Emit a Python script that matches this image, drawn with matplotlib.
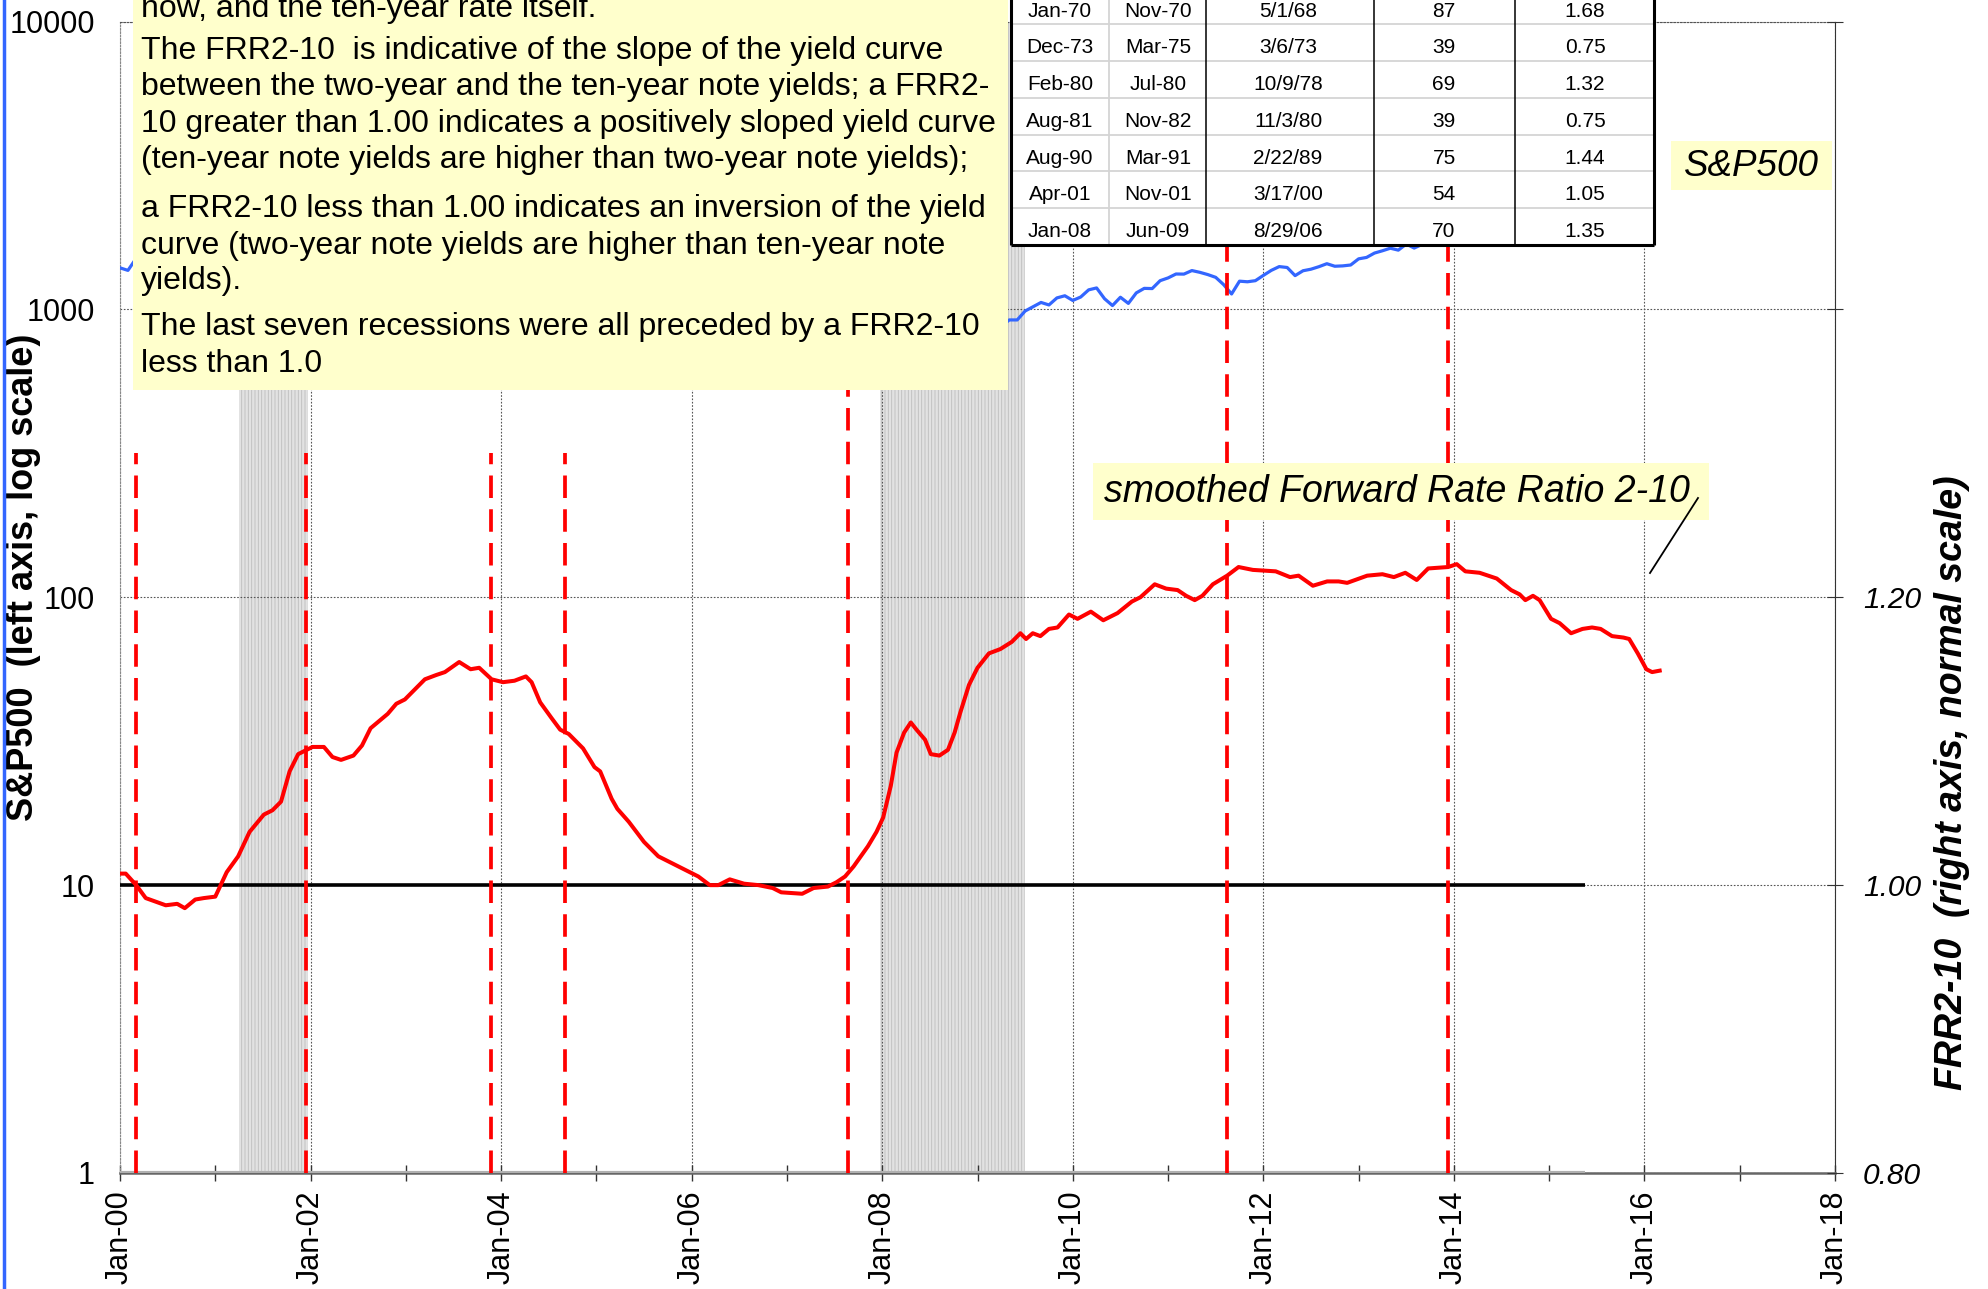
import matplotlib
matplotlib.use("Agg")
import matplotlib.pyplot as plt
import numpy as np
from matplotlib.patches import Rectangle
from matplotlib.lines import Line2D
from matplotlib.ticker import NullLocator

plt.rcParams['font.family'] = ['Liberation Sans', 'DejaVu Sans']
plt.rcParams['hatch.linewidth'] = 0.6

# S&P500 monthly closes, Jan-2000 .. Feb-2016
sp500 = [
    1394, 1366, 1499, 1452, 1421, 1455, 1431, 1518, 1437, 1429, 1315, 1320,
    1366, 1240, 1160, 1249, 1256, 1224, 1211, 1134, 1041, 1060, 1139, 1148,
    1130, 1107, 1147, 1077, 1067, 990, 912, 916, 815, 886, 936, 880,
    856, 841, 848, 917, 964, 975, 990, 1008, 996, 1051, 1058, 1112,
    1131, 1145, 1126, 1107, 1121, 1141, 1102, 1104, 1115, 1130, 1174, 1212,
    1181, 1204, 1181, 1157, 1192, 1191, 1234, 1220, 1229, 1207, 1249, 1248,
    1280, 1281, 1295, 1311, 1270, 1270, 1277, 1304, 1336, 1378, 1401, 1418,
    1438, 1407, 1421, 1482, 1531, 1503, 1455, 1474, 1527, 1549, 1481, 1468,
    1379, 1331, 1323, 1386, 1400, 1280, 1267, 1283, 1165, 969, 896, 903,
    826, 735, 798, 873, 919, 919, 987, 1021, 1057, 1036, 1096, 1115,
    1074, 1104, 1169, 1187, 1089, 1031, 1102, 1049, 1141, 1183, 1181, 1258,
    1286, 1327, 1326, 1364, 1345, 1321, 1292, 1219, 1131, 1253, 1247, 1258,
    1312, 1366, 1408, 1398, 1310, 1362, 1379, 1407, 1441, 1412, 1416, 1426,
    1498, 1515, 1569, 1598, 1631, 1606, 1686, 1633, 1682, 1757, 1806, 1848,
    1783, 1859, 1872, 1884, 1924, 1960, 1931, 2003, 1972, 2018, 2068, 2059,
    1995, 2105, 2068, 2086, 2107, 2063, 2104, 1972, 1920, 2079, 2080, 2044,
    1940, 1932,
]
sp_x = 2000 + np.arange(len(sp500)) / 12.0

# smoothed FRR2-10 (years after Jan-2000, value)
frr_off = [0.00, 0.06, 0.17, 0.27, 0.48, 0.60, 0.68, 0.79, 0.88, 1.00,
           1.12, 1.24, 1.36, 1.51, 1.60, 1.69, 1.78, 1.87, 2.02, 2.14,
           2.23, 2.32, 2.45, 2.54, 2.63, 2.72, 2.81, 2.90, 2.99, 3.08,
           3.20, 3.32, 3.41, 3.56, 3.68, 3.77, 3.90, 4.02, 4.14, 4.26,
           4.32, 4.41, 4.53, 4.62, 4.71, 4.86, 4.98, 5.04, 5.16, 5.22,
           5.34, 5.50, 5.65, 5.77, 5.89, 6.07, 6.19, 6.28, 6.40, 6.55,
           6.70, 6.85, 6.94, 7.16, 7.28, 7.43, 7.52, 7.61, 7.70, 7.85,
           7.94, 8.01, 8.09, 8.15, 8.23, 8.30, 8.36, 8.45, 8.51, 8.60,
           8.69, 8.76, 8.82, 8.91, 9.00, 9.12, 9.24, 9.36, 9.45, 9.51,
           9.58, 9.66, 9.75, 9.84, 9.96, 10.05, 10.19, 10.32, 10.47, 10.62,
           10.71, 10.86, 10.98, 11.10, 11.19, 11.28, 11.36, 11.47, 11.62, 11.74,
           11.89, 12.13, 12.28, 12.37, 12.52, 12.67, 12.79, 12.88, 13.09, 13.25,
           13.37, 13.49, 13.61, 13.73, 13.94, 14.03, 14.12, 14.27, 14.45, 14.60,
           14.69, 14.75, 14.83, 14.90, 15.02, 15.11, 15.23, 15.35, 15.45, 15.54,
           15.66, 15.78, 15.84, 15.93, 16.02, 16.08, 16.16]
frr_val = [1.008, 1.008, 1.000, 0.991, 0.986, 0.987, 0.984, 0.990, 0.991, 0.992,
           1.009, 1.020, 1.037, 1.049, 1.052, 1.058, 1.079, 1.091, 1.096, 1.096,
           1.089, 1.087, 1.090, 1.097, 1.109, 1.114, 1.119, 1.126, 1.129, 1.135,
           1.143, 1.146, 1.148, 1.155, 1.150, 1.151, 1.143, 1.141, 1.142, 1.145,
           1.141, 1.127, 1.116, 1.108, 1.105, 1.095, 1.082, 1.079, 1.060, 1.053,
           1.044, 1.030, 1.020, 1.016, 1.012, 1.006, 1.000, 1.000, 1.004, 1.001,
           1.000, 0.998, 0.995, 0.994, 0.998, 0.999, 1.002, 1.006, 1.013, 1.027,
           1.037, 1.047, 1.069, 1.092, 1.106, 1.113, 1.108, 1.101, 1.091, 1.090,
           1.094, 1.106, 1.120, 1.139, 1.151, 1.161, 1.164, 1.169, 1.175, 1.171,
           1.175, 1.173, 1.178, 1.179, 1.188, 1.185, 1.190, 1.184, 1.189, 1.197,
           1.200, 1.209, 1.206, 1.205, 1.201, 1.198, 1.201, 1.209, 1.215, 1.221,
           1.219, 1.218, 1.214, 1.215, 1.208, 1.211, 1.211, 1.210, 1.215, 1.216,
           1.214, 1.217, 1.212, 1.220, 1.221, 1.223, 1.218, 1.217, 1.213, 1.205,
           1.202, 1.198, 1.201, 1.198, 1.185, 1.182, 1.175, 1.178, 1.179, 1.178,
           1.173, 1.172, 1.171, 1.161, 1.150, 1.148, 1.149]
frr_x = 2000 + np.array(frr_off)

# recessions (shaded) and FRR signal dates (red dashed)
recessions = [(2001.25, 2001.97), (2007.98, 2009.50)]
signal_dates = [2000.17, 2001.95, 2003.89, 2004.67, 2007.64, 2011.62, 2013.94]
signal_tops = [1.30, 1.30, 1.30, 1.30, 1.60, 1.60, 1.60]
ref_level = 1.00
ref_end = 2015.38

# table of past recessions
tab_start = ["Jan-70", "Dec-73", "Feb-80", "Aug-81", "Aug-90", "Apr-01", "Jan-08"]
tab_end = ["Nov-70", "Mar-75", "Jul-80", "Nov-82", "Mar-91", "Nov-01", "Jun-09"]
tab_signal = ["5/1/68", "3/6/73", "10/9/78", "11/3/80", "2/22/89", "3/17/00", "8/29/06"]
tab_lead = ["87", "39", "69", "39", "75", "54", "70"]
tab_ratio = ["1.68", "0.75", "1.32", "0.75", "1.44", "1.05", "1.35"]

note_lines = [
    "now, and the ten-year rate itself.",
    "The FRR2-10  is indicative of the slope of the yield curve",
    "between the two-year and the ten-year note yields; a FRR2-",
    "10 greater than 1.00 indicates a positively sloped yield curve",
    "(ten-year note yields are higher than two-year note yields);",
    "a FRR2-10 less than 1.00 indicates an inversion of the yield",
    "curve (two-year note yields are higher than ten-year note",
    "yields).",
    "The last seven recessions were all preceded by a FRR2-10",
    "less than 1.0",
]
note_y = [9, 51, 87, 124, 160, 209, 246, 281, 327, 364]

W, H = 1988, 1289


def fx(px):
    return px / W


def fy(py):
    return 1 - py / H


fig = plt.figure(figsize=(W / 100, H / 100), dpi=100)
ax = fig.add_axes([fx(120), fy(1173), fx(1835) - fx(120), fy(21.5) - fy(1173)])
ax2 = ax.twinx()

for a, b in recessions:
    ax.axvspan(a, b, facecolor='#e2e2e2', edgecolor='#bdbdbd', hatch='|||||', lw=0, zorder=1)

ax.plot(sp_x, sp500, color='#3366ff', lw=2.3, zorder=3)
ax.set_yscale('log')
ax.set_ylim(1, 10000)
ax.set_xlim(2000, 2018)
ax.set_yticks([1, 10, 100, 1000, 10000])
ax.set_yticklabels(['1', '10', '100', '1000', '10000'])
ax.yaxis.set_minor_locator(NullLocator())
ax.set_xticks(range(2000, 2019, 2))
ax.set_xticklabels(['Jan-%02d' % (y % 100) for y in range(2000, 2019, 2)], rotation=90)
ax.set_xticks(range(2001, 2018, 2), minor=True)
ax.tick_params(axis='x', which='both', direction='inout', length=11, width=1, color='#333333', pad=7)
ax.tick_params(axis='x', which='major', labelsize=22)
ax.tick_params(axis='y', length=0, pad=18, labelsize=22)
ax.grid(True, which='major', color='#555555', linestyle=(0, (1.5, 1.5)), lw=0.8)
ax.spines['left'].set_color('#888888')
ax.spines['left'].set_linestyle((0, (1.5, 1.5)))
ax.spines['top'].set_color('#555555')
ax.spines['top'].set_linestyle((0, (1.5, 1.5)))
ax.spines['right'].set_color('#333333')
ax.spines['bottom'].set_color('#666666')
ax.spines['bottom'].set_linewidth(1.8)
ax.set_ylabel("S&P500  (left axis, log scale)", fontsize=26, fontweight='bold', va='center')
ax.yaxis.set_label_coords(-0.056, 0.517)

# FRR on right axis
ax2.hlines(0.8, 2000, ref_end, color='#b0b0b0', lw=3, zorder=1)
ax2.hlines(ref_level, 2000, ref_end, color='black', lw=2.6, zorder=2)
ax2.vlines(signal_dates, 0.8, signal_tops, colors='#ff0000', linestyles=(0, (6, 3)), lw=2.7, zorder=3)
ax2.plot(frr_x, frr_val, color='#ff0000', lw=2.9, zorder=4)
ax2.set_ylim(0.8, 1.6)
ax2.set_yticks([0.8, 1.0, 1.2, 1.4, 1.6])
ax2.set_yticklabels(['0.80', '1.00', '1.20', '', ''])
ax2.tick_params(axis='y', direction='inout', length=12, color='#333333', pad=14, labelsize=21.5)
for t in ax2.get_yticklabels():
    t.set_fontstyle('italic')
for s in ax2.spines.values():
    s.set_visible(False)
ax2.set_ylabel("FRR2-10  (right axis, normal scale)", fontsize=27, fontweight='bold', fontstyle='italic',
               va='center')
ax2.yaxis.set_label_coords(1.068, 0.339)

# note box
fig.add_artist(Rectangle((fx(133), fy(390)), fx(1008) - fx(133), fy(0) - fy(390),
                         transform=fig.transFigure, facecolor='#ffffcc', edgecolor='none', zorder=5))
for line, yy in zip(note_lines, note_y):
    fig.text(fx(141), fy(yy), line, fontsize=23, ha='left', va='center', zorder=6)

# series labels
fig.add_artist(Rectangle((fx(1671), fy(190)), fx(1832) - fx(1671), fy(141) - fy(190),
                         transform=fig.transFigure, facecolor='#ffffcc', edgecolor='none', zorder=5))
fig.text(fx(1751), fy(166), "S&P500", fontsize=26.5, fontstyle='italic', ha='center', va='center', zorder=6)
fig.add_artist(Rectangle((fx(1093), fy(520)), fx(1709) - fx(1093), fy(463) - fy(520),
                         transform=fig.transFigure, facecolor='#ffffcc', edgecolor='none', zorder=5))
fig.text(fx(1397), fy(492), "smoothed Forward Rate Ratio 2-10", fontsize=27, fontstyle='italic',
         ha='center', va='center', zorder=6)
fig.add_artist(Line2D([fx(1698), fx(1650)], [fy(498), fy(573)], transform=fig.transFigure,
                      color='black', lw=1.3, zorder=6))

# blue frame edge on the left
fig.add_artist(Line2D([fx(4), fx(4)], [0, 1], transform=fig.transFigure, color='#3366ff', lw=2.5, zorder=6))

# table
top, bot = -12.3, 245
tax = fig.add_axes([fx(1010), fy(bot), fx(1654) - fx(1010), fy(top) - fy(bot)], zorder=5)
tax.set_xlim(1010, 1654)
tax.set_ylim(bot, top)
tax.axis('off')
tax.add_patch(Rectangle((1010, top), 644, bot - top, facecolor='white', edgecolor='none'))
row_h = (bot - top) / len(tab_start)
row_edges = [top + i * row_h for i in range(len(tab_start) + 1)]
tax.hlines(row_edges[1:-1], 1011, 1654, color='#d4d4d4', lw=1.3)
tax.vlines([1109], top, bot, color='#d4d4d4', lw=1.3)
tax.vlines([1206, 1374, 1515], top, bot, color='black', lw=1.1)
tax.vlines([1011, 1654], top, bot, color='black', lw=2.2, clip_on=False)
tax.hlines([bot], 1011, 1654, color='black', lw=2.2, clip_on=False)
col_x = [1060, 1158, 1288, 1444, 1585]
for i in range(len(tab_start)):
    yc = row_edges[i] + row_h / 2 + 5
    for cx, val in zip(col_x, [tab_start[i], tab_end[i], tab_signal[i], tab_lead[i], tab_ratio[i]]):
        tax.text(cx, yc, val, fontsize=15, ha='center', va='center')

fig.savefig("out.png", dpi=100)
